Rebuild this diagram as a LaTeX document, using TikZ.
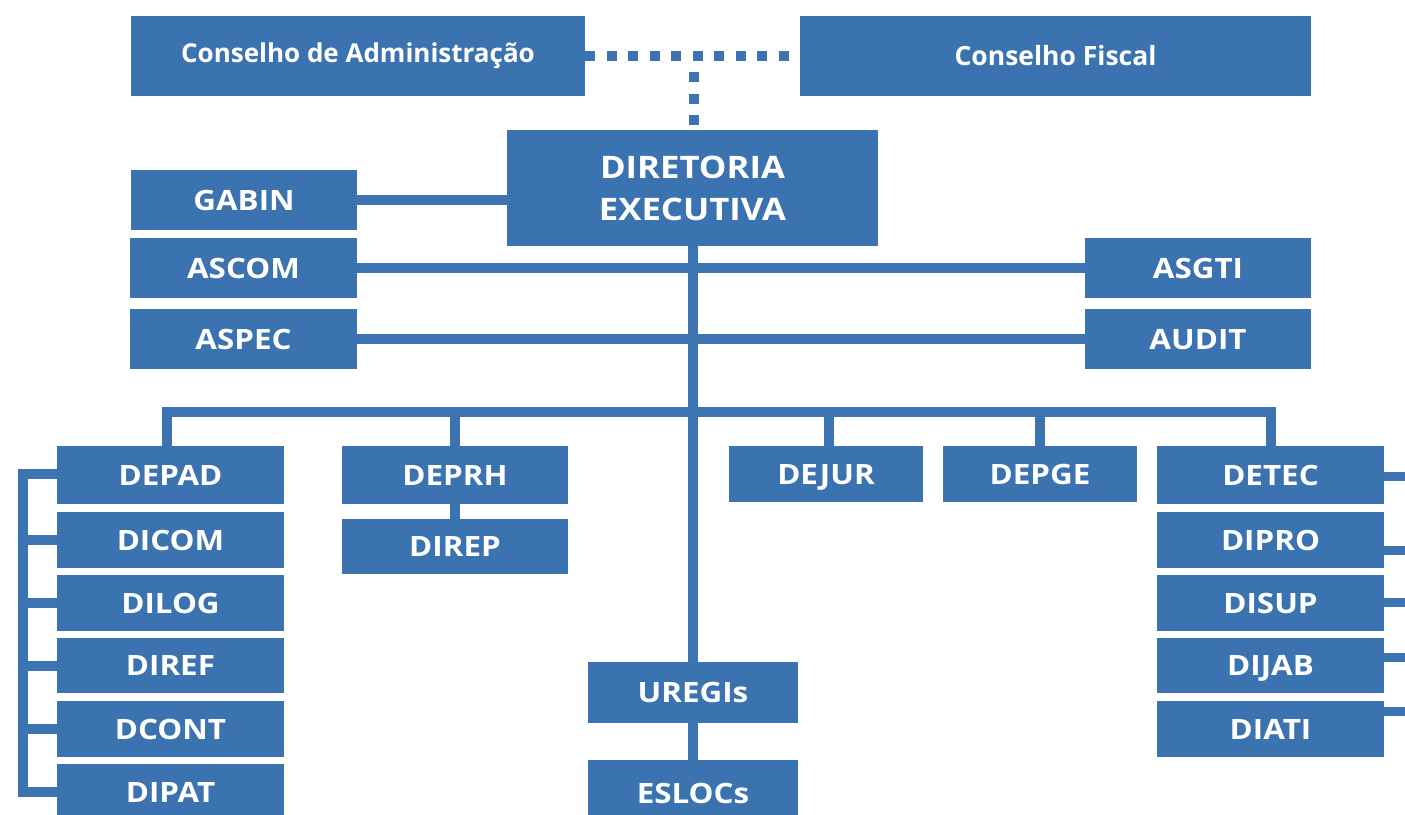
\documentclass[tikz,border=0pt]{standalone}
\usepackage{fontspec}
\setmainfont{Open Sans}
\newfontfamily\widefont[FakeStretch=1.12]{Open Sans}
\usetikzlibrary{backgrounds}
\definecolor{boxblue}{HTML}{3A73B0}
\definecolor{lineblue}{HTML}{3C74B1}
\tikzset{
  box/.style={fill=boxblue, text=white, inner sep=0pt},
  capbox/.style={box, text height=20pt, text depth=0pt},
  link/.style={draw=lineblue, line width=10pt},
  dotlink/.style={draw=lineblue, line width=10pt, dash pattern=on 10pt off 11.5pt},
  stub/.style={draw=lineblue, line width=9pt}
}
\newcommand{\bx}[7]{% name, x1, y1, x2, y2, fontsize, text
  \node[capbox, minimum width={#4-#2}, minimum height={#5-#3}, font=\widefont\bfseries\fontsize{#6}{#6}\selectfont] (#1) at ({(#2+#4)/2},{(#3+#5)/2}) {#7};}
\begin{document}
\begin{tikzpicture}[x=1pt,y=-1pt]
\useasboundingbox (0,0) rectangle (1405,814);
% top
\node[box, minimum width=454, minimum height=80, font=\bfseries\fontsize{26}{26}\selectfont] (CA) at (358,56) {Conselho de Administração};
\node[capbox, text height=19pt, minimum width=511, minimum height=80, font=\bfseries\fontsize{26.5}{26}\selectfont] (CF) at (1055.5,56) {Conselho Fiscal};
\node[box, minimum width=371, minimum height=116, align=center, font=\widefont\bfseries\fontsize{31}{42}\selectfont] (DE) at (692.5,188) {DIRETORIA\\EXECUTIVA};
% staff
\bx{GABIN}{131}{170}{357}{230}{28}{GABIN}
\bx{ASCOM}{130}{238}{357}{298}{28}{ASCOM}
\bx{ASPEC}{130}{309}{357}{369}{28}{ASPEC}
\bx{ASGTI}{1085}{238}{1311}{298}{28}{ASGTI}
\bx{AUDIT}{1085}{309}{1311}{369}{28}{AUDIT}
% departments
\bx{DEPAD}{57}{446}{284}{504}{28}{DEPAD}
\bx{DICOM}{57}{512}{284}{568}{28}{DICOM}
\bx{DILOG}{57}{575}{284}{631}{28}{DILOG}
\bx{DIREF}{57}{638}{284}{693}{28}{DIREF}
\bx{DCONT}{57}{701}{284}{757}{28}{DCONT}
\bx{DIPAT}{57}{764}{284}{820}{28}{DIPAT}
\bx{DEPRH}{342}{446}{568}{504}{28}{DEPRH}
\bx{DIREP}{342}{519}{568}{574}{28}{DIREP}
\bx{DEJUR}{729}{446}{923}{502}{28}{DEJUR}
\bx{DEPGE}{943}{446}{1137}{502}{28}{DEPGE}
\bx{DETEC}{1157}{446}{1384}{504}{28}{DETEC}
\bx{DIPRO}{1157}{512}{1384}{568}{28}{DIPRO}
\bx{DISUP}{1157}{575}{1384}{631}{28}{DISUP}
\bx{DIJAB}{1157}{638}{1384}{693}{28}{DIJAB}
\bx{DIATI}{1157}{701}{1384}{757}{28}{DIATI}
\bx{UREGIs}{588}{662}{798}{723}{28}{UREGIs}
\bx{ESLOCs}{588}{760}{798}{826}{28}{ESLOCs}
% coordinates
\coordinate (dj) at (694,57);
\coordinate (bus) at (692,412);
\coordinate (L) at (23,474);
\coordinate (r1) at (1412,476);
\coordinate (r2) at (1412,550);
\coordinate (r3) at (1412,602);
\coordinate (r4) at (1412,657);
\coordinate (r5) at (1412,711);
\begin{pgfonlayer}{background}
\path[dotlink] (CA.east) -- (CF.west);
\path[dotlink, dash phase=11.5pt] (dj |- 0,62) -- (dj |- DE.north);
\path[link] (GABIN.east) -- (GABIN.east -| DE.west);
\path[link] (ASCOM.east) -- (ASGTI.west);
\path[link] (ASPEC.east) -- (AUDIT.west);
\path[link] (DE.south) -- (UREGIs.north -| DE.south);
\path[link] (UREGIs.south) -- (ESLOCs.north);
\path[link] ([xshift=-4pt]DEPAD.north) |- (bus) -| (DETEC.north);
\path[link] (DEPRH.north) -- (DEPRH.north |- bus);
\path[link] ([xshift=3pt]DEJUR.north) -- ([xshift=3pt]DEJUR.north |- bus);
\path[link] (DEPGE.north) -- (DEPGE.north |- bus);
\path[link] (DEPRH.south) -- (DIREP.north);
\path[link] (DEPAD.west |- L) -| (L |- DIPAT.west) -- (DIPAT.west);
\foreach \n in {DICOM,DILOG,DIREF,DCONT} \path[link] (\n.west) -- (\n.west -| L);
\path[stub] (DETEC.east |- r1) -- (r1);
\path[stub] (DIPRO.east |- r2) -- (r2);
\path[stub] (DISUP.east |- r3) -- (r3);
\path[stub] (DIJAB.east |- r4) -- (r4);
\path[stub] (DIATI.east |- r5) -- (r5);
\end{pgfonlayer}
\end{tikzpicture}
\end{document}
